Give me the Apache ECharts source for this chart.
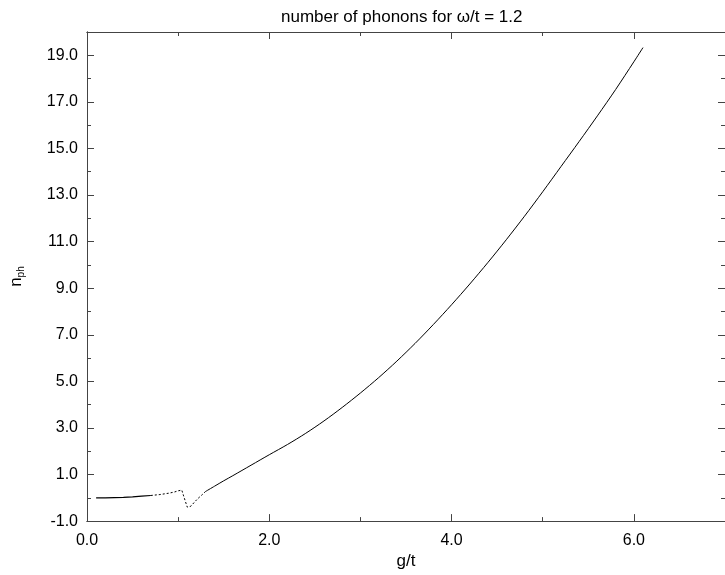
<!DOCTYPE html>
<html>
<head>
<meta charset="utf-8">
<script src="https://cdn.jsdelivr.net/npm/echarts@6/dist/echarts.min.js"></script>
<style>
    html, body { margin: 0; padding: 0; background: #fff; }
    #chart { width: 725px; height: 575px; }
</style>
</head>
<body>
<div id="chart"></div>
<script>
// g/t values and phonon numbers
var lowG = [0.10, 0.20, 0.30, 0.40, 0.50, 0.60, 0.70];
var lowN = [0.00, 0.00, 0.01, 0.02, 0.04, 0.07, 0.10];

var dipG = [0.70, 0.80, 0.90, 0.96, 1.00, 1.04, 1.06, 1.08, 1.10, 1.11, 1.14, 1.18, 1.22, 1.26, 1.30];
var dipN = [0.10, 0.14, 0.20, 0.25, 0.30, 0.33, 0.08, -0.16, -0.40, -0.46, -0.36, -0.18, -0.02, 0.12, 0.27];

var mainG = [1.30, 1.40, 1.50, 1.60, 1.80, 2.00, 2.20, 2.40, 2.60, 2.80, 3.00, 3.20, 3.40, 3.60,
    3.80, 4.00, 4.20, 4.40, 4.60, 4.80, 5.00, 5.20, 5.40, 5.60, 5.80, 6.00, 6.10];
var mainN = [0.27, 0.50, 0.73, 0.95, 1.40, 1.85, 2.29, 2.77, 3.30, 3.88, 4.50, 5.16, 5.87, 6.63,
    7.44, 8.29, 9.18, 10.11, 11.08, 12.09, 13.14, 14.22, 15.30, 16.40, 17.53, 18.72, 19.33];

var FONT = "'Liberation Sans', Arial, Helvetica, sans-serif";
var AXIS_COLOR = "#444";

function pairs(xs, ys) {
    var out = [];
    for (var i = 0; i < xs.length; i++) {
        out.push([xs[i], ys[i]]);
    }
    return out;
}

function xAxis(position, interval, tickLen, showLabels) {
    return {
        type: "value",
        position: position,
        min: 0,
        max: 7,
        interval: interval,
        axisLine: { show: true, onZero: false, lineStyle: { color: AXIS_COLOR, width: 1 } },
        axisTick: { show: true, inside: true, length: tickLen, lineStyle: { color: AXIS_COLOR, width: 1 } },
        axisLabel: {
            show: showLabels,
            showMaxLabel: false,
            margin: 11,
            fontSize: 16,
            color: "#000",
            fontFamily: FONT,
            formatter: function (v) {
                return v.toFixed(1);
            }
        },
        splitLine: { show: false }
    };
}

function yAxis(position, interval, tickLen, showLabels) {
    return {
        type: "value",
        position: position,
        min: -1,
        max: 20,
        interval: interval,
        axisLine: { show: true, onZero: false, lineStyle: { color: AXIS_COLOR, width: 1 } },
        axisTick: { show: true, inside: true, length: tickLen, lineStyle: { color: AXIS_COLOR, width: 1 } },
        axisLabel: {
            show: showLabels,
            showMaxLabel: false,
            margin: 9,
            fontSize: 16,
            color: "#000",
            fontFamily: FONT,
            formatter: function (v) {
                return v.toFixed(1);
            }
        },
        splitLine: { show: false }
    };
}

var xMain = xAxis("bottom", 2, 7, true);
xMain.name = "g/t";
xMain.nameLocation = "middle";
xMain.nameGap = 30;
xMain.nameTextStyle = { fontSize: 17, color: "#000", fontFamily: FONT };

var yMain = yAxis("left", 2, 7, true);
yMain.name = "{n|n}{s|ph}";
yMain.nameLocation = "middle";
yMain.nameRotate = 90;
yMain.nameGap = 62;
yMain.nameTextStyle = {
    color: "#000",
    fontFamily: FONT,
    rich: {
        n: { fontSize: 17, lineHeight: 17, verticalAlign: "top", fontFamily: FONT, color: "#000" },
        s: { fontSize: 10, lineHeight: 10, padding: [8, 0, 0, 0], verticalAlign: "top", fontFamily: FONT, color: "#000" }
    }
};

var chart = echarts.init(document.getElementById("chart"), null, { renderer: "canvas" });

var option = {
    animation: false,
    backgroundColor: "#fff",
    textStyle: { fontFamily: FONT },
    title: {
        text: "number of phonons for \u03c9/t = 1.2",
        left: 276,
        top: 4,
        textStyle: { fontSize: 17, fontWeight: "normal", color: "#000", fontFamily: FONT }
    },
    grid: {
        left: 82,
        right: -4,
        top: 32,
        bottom: 51
    },
    xAxis: [
        xMain,
        xAxis("bottom", 1, 4, false),
        xAxis("top", 2, 7, false),
        xAxis("top", 1, 4, false)
    ],
    yAxis: [
        yMain,
        yAxis("left", 1, 4, false),
        yAxis("right", 2, 7, false),
        yAxis("right", 1, 4, false)
    ],
    series: [
        {
            name: "low",
            type: "line",
            data: pairs(lowG, lowN),
            showSymbol: false,
            lineStyle: { color: "#000", width: 1.2 }
        },
        {
            name: "dip",
            type: "line",
            data: pairs(dipG, dipN),
            showSymbol: false,
            lineStyle: { color: "#000", width: 1, type: [2, 2] }
        },
        {
            name: "main",
            type: "line",
            data: pairs(mainG, mainN),
            showSymbol: false,
            smooth: 0.3,
            lineStyle: { color: "#000", width: 1 }
        }
    ]
};

chart.setOption(option);
</script>
</body>
</html>
